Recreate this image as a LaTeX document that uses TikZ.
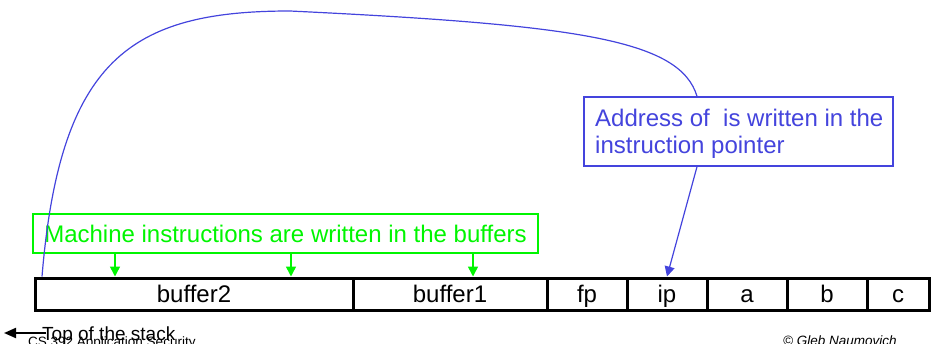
\documentclass[tikz,border=0pt]{standalone}
\usepackage{fontspec}
\setmainfont{Liberation Sans}
\usetikzlibrary{arrows.meta}
\definecolor{pblue}{RGB}{68,68,221}
\definecolor{pgreen}{RGB}{0,245,0}
\begin{document}
\begin{tikzpicture}[x=1pt,y=-1pt,
  cell/.style={draw=black, line width=3pt, minimum height=32pt, inner sep=0pt,
    font=\fontsize{24}{28}\selectfont, text height=17pt, text depth=0pt},
  gbox/.style={draw=pgreen, line width=1.5pt, minimum width=505pt, minimum height=39pt,
    inner sep=0pt, text=pgreen, font=\fontsize{24}{28}\selectfont, text height=17pt, text depth=0pt},
  bbox/.style={draw=pblue, fill=white, line width=1.5pt, minimum width=309pt, minimum height=69pt, inner sep=0pt},
  btext/.style={text=pblue, inner sep=0pt, anchor=base west, font=\fontsize{24}{28}\selectfont},
  garrow/.style={draw=pgreen, line width=1.5pt, -{Triangle[width=10pt,length=10pt]}},
  barrow/.style={draw=pblue, line width=1.2pt, -{Triangle[width=10pt,length=10pt]}},
  bline/.style={draw=pblue, line width=1.2pt},
  karrow/.style={draw=black, line width=2pt, -{Triangle[width=10pt,length=12pt]}},
  small/.style={inner sep=0pt, anchor=base west, font=\fontsize{13.5}{16}\selectfont},
]
\useasboundingbox (0,0) rectangle (931,343);

% green note
\node[gbox] (gnote) at (285.5,233.5) {Machine instructions are written in the buffers};

% stack cells
\node[cell, minimum width=318pt] (buf2) at (194,294) {buffer2};
\node[cell, minimum width=194pt] (buf1) at (450,294) {buffer1};
\node[cell, minimum width=80pt] (fp) at (587,294) {fp};
\node[cell, minimum width=80pt] (ip) at (667,294) {ip};
\node[cell, minimum width=80pt] (ca) at (747,294) {a};
\node[cell, minimum width=80pt] (cb) at (827,294) {b};
\node[cell, minimum width=62pt] (cc) at (898,294) {c};

% green arrows
\coordinate (g1) at (115,0);
\coordinate (g2) at (291,0);
\coordinate (g3) at (473,0);
\draw[garrow] (gnote.south -| g1) -- (buf2.north -| g1);
\draw[garrow] (gnote.south -| g2) -- (buf2.north -| g2);
\draw[garrow] (gnote.south -| g3) -- (buf1.north -| g3);

% blue note
\node[bbox] (bnote) at (738.5,131.5) {};
\node[btext] (bl1) at (595,126) {Address of\ \ is written in the};
\node[btext] (bl2) at (595,153) {instruction pointer};

% blue curve and arrow
\coordinate (cs) at (42,0);
\coordinate (bx) at (697,0);
\draw[bline] (buf2.north -| cs) .. controls (60,60) and (130,11) .. (290,11)
  .. controls (580,25) and (680,40) .. (bnote.north -| bx);
\draw[barrow] (bnote.south -| bx) -- (ip.north);

% footer
\node[small] (footl) at (28,346) {CS 392 Application Security};
\node[small, font=\fontsize{13.5}{16}\selectfont\itshape] (footr) at (783,345) {© Gleb Naumovich};

% top of the stack
\coordinate (tsend) at (4,333);
\node[inner sep=0pt, anchor=base west, font=\fontsize{19}{22}\selectfont] (tos) at (42,340) {Top of the stack};
\draw[karrow] ([xshift=4pt]tos.west |- tsend) -- (tsend);
\end{tikzpicture}
\end{document}
